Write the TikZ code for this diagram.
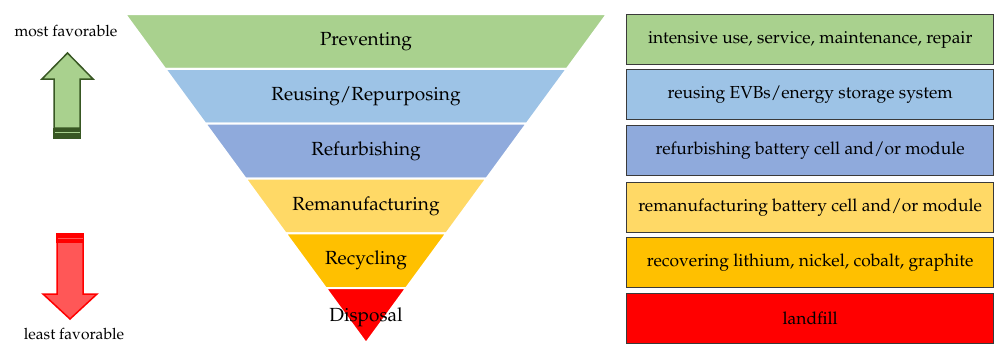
\documentclass[tikz,border=0pt]{standalone}
\usepackage[T1]{fontenc}
\usepackage{mathpazo}
\usepackage{xcolor}
\usepackage{tikz}
\usetikzlibrary{positioning}

\definecolor{prevgreen}{HTML}{A9D18E}
\definecolor{reuseblue}{HTML}{9DC3E6}
\definecolor{refurbblue}{HTML}{8FAADC}
\definecolor{remanyellow}{HTML}{FFD966}
\definecolor{recycleorange}{HTML}{FFC000}
\definecolor{disposered}{HTML}{FF0000}
\definecolor{upedge}{HTML}{385723}
\definecolor{downfill}{HTML}{FF5757}
\definecolor{boxedge}{HTML}{3A3A3A}

\tikzset{
  band/.style={draw=white, line width=2pt, line join=miter},
  bandtext/.style={font=\fontsize{19}{22}\selectfont, inner sep=0pt},
  infobox/.style={draw=boxedge, line width=1.4pt, minimum width=367pt, minimum height=50pt,
                  inner sep=0pt, font=\fontsize{17.4}{20}\selectfont},
  sidetext/.style={font=\fontsize{15.6}{18}\selectfont, inner sep=0pt}
}

\begin{document}
\begin{tikzpicture}[x=1pt, y=-1pt]
\useasboundingbox (0,0) rectangle (994,343);

% the funnel, top to bottom
\filldraw[band, fill=prevgreen]     (125,14) -- (607,14) -- (566.9,68.8) -- (165.1,68.8) -- cycle;
\filldraw[band, fill=reuseblue]     (165.1,68.8) -- (566.9,68.8) -- (526.7,123.6) -- (205.3,123.6) -- cycle;
\filldraw[band, fill=refurbblue]    (205.3,123.6) -- (526.7,123.6) -- (486.5,178.5) -- (245.5,178.5) -- cycle;
\filldraw[band, fill=remanyellow]   (245.5,178.5) -- (486.5,178.5) -- (446.4,233.3) -- (285.6,233.3) -- cycle;
\filldraw[band, fill=recycleorange] (285.6,233.3) -- (446.4,233.3) -- (406.1,288.2) -- (325.9,288.2) -- cycle;
\filldraw[band, fill=disposered]    (325.9,288.2) -- (406.1,288.2) -- (366,343) -- cycle;

\begin{scope}[every node/.style={bandtext}]
   \node (prev)    at (366,41.4)  {Preventing};
   \node (reuse)   at (366,96.2)  {Reusing/Repurposing};
   \node (refurb)  at (366,151)   {Refurbishing};
   \node (reman)   at (366,205.9) {Remanufacturing};
   \node (recycle) at (366,260.7) {Recycling};
   \node (dispose) at (366,317)   {Disposal};
\end{scope}

% descriptions on the right
\begin{scope}[every node/.style={infobox, anchor=north west}]
   \node[fill=prevgreen]     (dprev)    at (626,14)  {intensive use, service, maintenance, repair};
   \node[fill=reuseblue]     (dreuse)   at (626,69)  {reusing EVBs/energy storage system};
   \node[fill=refurbblue]    (drefurb)  at (626,125) {refurbishing battery cell and/or module};
   \node[fill=remanyellow]   (dreman)   at (626,182) {remanufacturing battery cell and/or module};
   \node[fill=recycleorange] (drecycle) at (626,237) {recovering lithium, nickel, cobalt, graphite};
   \node[fill=disposered]    (ddispose) at (626,293) {landfill};
\end{scope}

% favorability arrows
\node[sidetext] (most) at (66,31) {most favorable};
\filldraw[fill=prevgreen, draw=upedge, line width=1.5pt, line join=miter]
   (54,128) -- (54,79) -- (42,79) -- (67.5,53) -- (93,79) -- (80,79) -- (80,128) -- cycle;
\fill[upedge] (53.25,128) rectangle (80.75,138.5);
\draw[prevgreen, line width=1pt] (54.5,132.5) -- (79.5,132.5);

\filldraw[fill=downfill, draw=disposered, line width=1.5pt, line join=miter]
   (57,242) -- (57,294) -- (43,294) -- (70,319) -- (97,294) -- (83,294) -- (83,242) -- cycle;
\fill[disposered] (56.25,233) rectangle (83.75,242.5);
\draw[downfill, line width=1pt] (57.5,238) -- (82.5,238);
\node[sidetext] (least) at (74,334) {least favorable};
\end{tikzpicture}
\end{document}
